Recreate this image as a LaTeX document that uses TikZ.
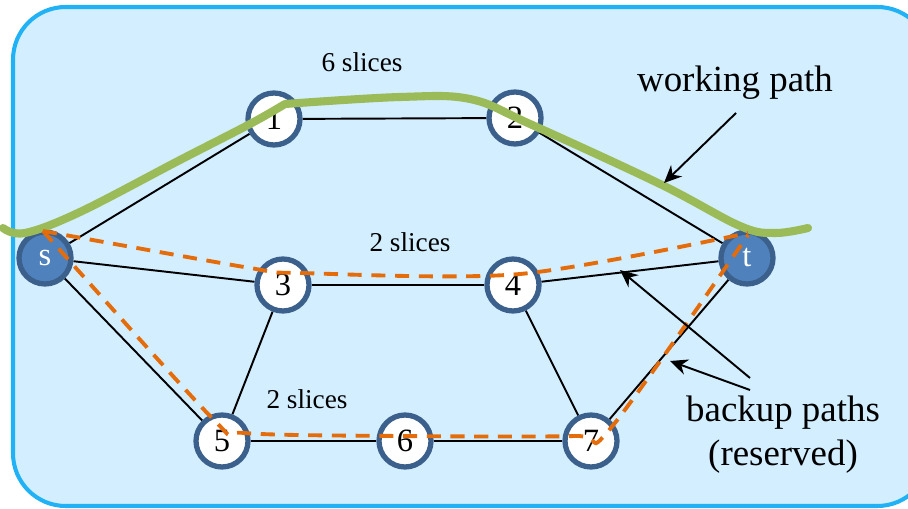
\documentclass[tikz,border=0pt]{standalone}
\usepackage{fontspec}
\setmainfont{Liberation Serif}
\usetikzlibrary{arrows.meta}

\definecolor{bgfill}{RGB}{210,238,255}
\definecolor{bgline}{RGB}{33,178,245}
\definecolor{ringblue}{RGB}{60,96,140}
\definecolor{endblue}{RGB}{79,129,189}
\definecolor{workgreen}{RGB}{155,187,89}
\definecolor{backorange}{RGB}{228,108,10}

\pgfdeclarelayer{panel}
\pgfdeclarelayer{links}
\pgfsetlayers{panel,links,main}

\tikzset{
  netnode/.style={circle,draw=ringblue,line width=3pt,fill=white,minimum size=1.04cm,inner sep=0pt,font=\fontsize{18.5}{20}\selectfont},
  endnode/.style={netnode,fill=endblue,text=white},
  link/.style={line width=1.1pt},
  workpath/.style={workgreen,line width=4.6pt,line join=round,line cap=round},
  backup/.style={backorange,line width=2.2pt,dash pattern=on 8pt off 5.5pt},
  pointer/.style={line width=1.1pt,-{Stealth[length=10pt,width=9pt]}},
  bigtext/.style={font=\fontsize{21}{25}\selectfont,align=center},
  slicetext/.style={font=\fontsize{15.5}{18}\selectfont}
}

\begin{document}
\begin{tikzpicture}[x=0.02cm,y=-0.02cm]
  \useasboundingbox (0,0) rectangle (908,509);
  % background panel
  \begin{pgfonlayer}{panel}
    \draw[bgline,fill=bgfill,line width=2.3pt,rounded corners=30] (13,7) rectangle (930,506);
  \end{pgfonlayer}

  % network nodes
  \node[endnode] (s) at (45,258) {s};
  \node[endnode] (t) at (747,258) {t};
  \node[netnode] (n1) at (274,119) {1};
  \node[netnode] (n2) at (515,118) {2};
  \node[netnode] (n3) at (283,285) {3};
  \node[netnode] (n4) at (513,285) {4};
  \node[netnode] (n5) at (222,441) {5};
  \node[netnode] (n6) at (405,441) {6};
  \node[netnode] (n7) at (591,441) {7};

  % links behind the nodes
  \begin{pgfonlayer}{links}
    \foreach \a/\b in {s/n1,s/n3,s/n5,n1/n2,n2/t,n3/n4,n4/t,n3/n5,n4/n7,n5/n6,n6/n7,n7/t}
      \draw[link] (\a) -- (\b);
  \end{pgfonlayer}

  % working path
  \draw[workpath] plot[smooth,tension=0.6] coordinates {(3,228) (25,233) (80,212) (180,160) (250,124) (285,104)}
    plot[smooth,tension=0.6] coordinates {(285,104) (400,97) (470,99) (530,124) (660,184) (740,226) (775,233) (808,228)};

  % backup paths
  \draw[backup] plot[smooth,tension=0.5] coordinates {(43,231) (250,268) (300,273) (520,274) (748,233)};
  \draw[backup] plot[smooth,tension=0.5] coordinates {(43,231) (212,418) (245,433) (400,436) (575,436) (610,429) (748,235)};

  % labels
  \node[slicetext] (lab6) at (362,62) {6 slices};
  \node[slicetext] (lab2a) at (410,242) {2 slices};
  \node[slicetext] (lab2b) at (307,399) {2 slices};
  \node[bigtext] (work) at (735,83) {working path};
  \node[bigtext] (backlab) at (783,435) {backup paths\\(reserved)};

  % pointers
  \coordinate (wtail) at (736,113);
  \coordinate (whead) at (664,183);
  \coordinate (btail1) at (750,378);
  \coordinate (bhead1) at (620,270);
  \coordinate (btail2) at (750,390);
  \coordinate (bhead2) at (670,361);
  \draw[pointer] (wtail) -- (whead);
  \draw[pointer] (btail1) -- (bhead1);
  \draw[pointer] (btail2) -- (bhead2);
\end{tikzpicture}
\end{document}
